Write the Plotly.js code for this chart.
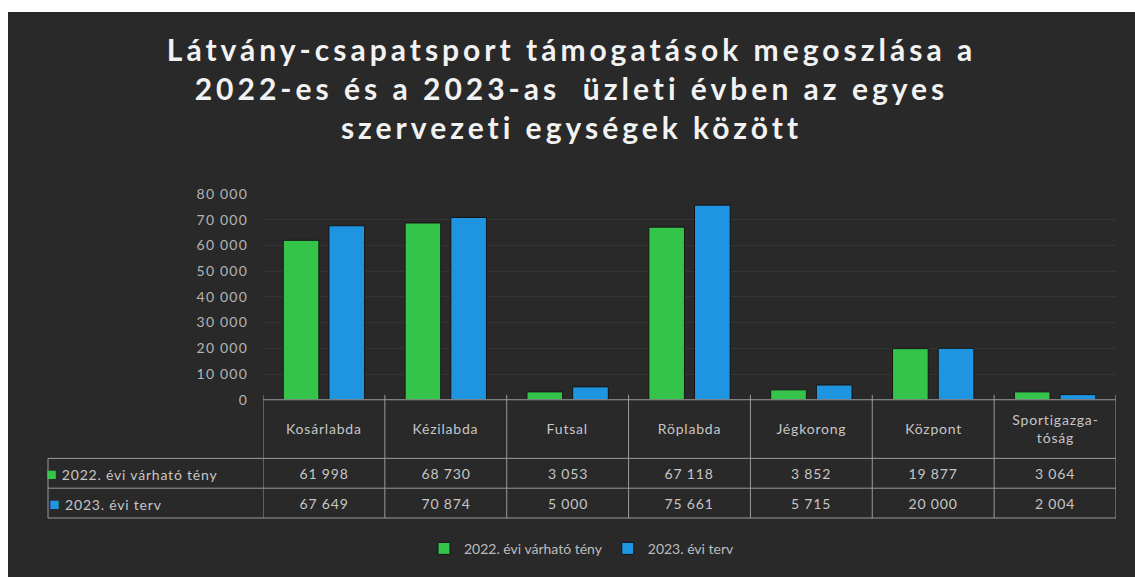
<!DOCTYPE html>
<html>
<head>
<meta charset="utf-8">
<script src="https://cdn.plot.ly/plotly-3.0.1.min.js"></script>
<style>
  html, body { margin: 0; padding: 0; background: #ffffff; }
  #chart { position: absolute; left: 8px; top: 12px; width: 1127px; height: 565px; }
  #chart .gtitle { letter-spacing: 4px; }
  #chart .ytick text { letter-spacing: 1.2px; }
  #chart .annotation-text { letter-spacing: 0.8px; }
</style>
</head>
<body>
<div id="chart"></div>
<script>
// Szervezeti egységek
const categories = ['Kosárlabda', 'Kézilabda', 'Futsal', 'Röplabda', 'Jégkorong', 'Központ', 'Sportigazgatóság'];
// Fejléc feliratok a táblázathoz (tördelve)
const headerLabels = ['Kosárlabda', 'Kézilabda', 'Futsal', 'Röplabda', 'Jégkorong', 'Központ', 'Sportigazga-<br>tóság'];

const seriesNames = ['2022. évi várható tény', '2023. évi terv'];
const values2022 = [61998, 68730, 3053, 67118, 3852, 19877, 3064];
const values2023 = [67649, 70874, 5000, 75661, 5715, 20000, 2004];

const green = '#35c44a';
const blue = '#1f95e2';
const textColor = '#c6c6c6';
const lineColor = '#9a9a9a';
const bg = '#292929';
const font = 'Lato, sans-serif';

// ezres tagolás szóközzel
function fmt(v) {
  return String(v).replace(/\B(?=(\d{3})+(?!\d))/g, ' ');
}

const barData = [
  {
    type: 'bar',
    name: seriesNames[0],
    x: categories,
    y: values2022,
    marker: { color: green, line: { color: '#151515', width: 1 } },
    hoverinfo: 'x+y'
  },
  {
    type: 'bar',
    name: seriesNames[1],
    x: categories,
    y: values2023,
    marker: { color: blue, line: { color: '#151515', width: 1 } },
    hoverinfo: 'x+y'
  }
];

// adattábla sorhatárai (paper koordináta, a rajzterület aljától)
const tableTop = 0.365;
const row1Top = 0.184;
const row2Top = 0.092;
const headerMid = 0.276;
const row1Mid = 0.138;
const row2Mid = 0.046;

const annotations = [];
const shapes = [];
const line = { color: lineColor, width: 1 };

categories.forEach((c, i) => {
  annotations.push({ x: c, xref: 'x', y: headerMid, yref: 'paper', text: headerLabels[i], showarrow: false,
    font: { family: font, size: 14, color: textColor }, xanchor: 'center', yanchor: 'middle' });
  annotations.push({ x: c, xref: 'x', y: row1Mid, yref: 'paper', text: fmt(values2022[i]), showarrow: false,
    font: { family: font, size: 14, color: textColor }, xanchor: 'center', yanchor: 'middle' });
  annotations.push({ x: c, xref: 'x', y: row2Mid, yref: 'paper', text: fmt(values2023[i]), showarrow: false,
    font: { family: font, size: 14, color: textColor }, xanchor: 'center', yanchor: 'middle' });
});

// sorfeliratok színes jelölővel
[[seriesNames[0], green, row1Mid], [seriesNames[1], blue, row2Mid]].forEach(([name, col, y]) => {
  annotations.push({ x: 0, xref: 'paper', xshift: 6, y: y, yref: 'paper', showarrow: false,
    text: '<span style="color:' + col + ';font-size:17px">■</span> ' + name,
    font: { family: font, size: 14, color: textColor }, xanchor: 'left', yanchor: 'middle' });
});

// oszlophatárok
for (let i = 0; i <= categories.length; i++) {
  shapes.push({ type: 'line', xref: 'x', yref: 'paper', x0: i - 0.5, x1: i - 0.5, y0: 0, y1: tableTop + 0.015, line: line });
}
// vízszintes vonalak
shapes.push({ type: 'line', xref: 'x', yref: 'paper', x0: -0.5, x1: categories.length - 0.5, y0: tableTop, y1: tableTop, line: line });
[row1Top, row2Top, 0].forEach(y => {
  shapes.push({ type: 'line', xref: 'paper', yref: 'paper', x0: 0, x1: 1, y0: y, y1: y, line: line });
});
shapes.push({ type: 'line', xref: 'paper', yref: 'paper', x0: 0, x1: 0, y0: 0, y1: row1Top, line: line });

const layout = {
  title: {
    text: 'Látvány-csapatsport támogatások megoszlása a<br>2022-es és a 2023-as  üzleti évben az egyes<br>szervezeti egységek között',
    font: { family: font, size: 30, color: '#f2f2f2', weight: 'bold' },
    x: 0.5,
    xanchor: 'center',
    y: 0.913,
    yanchor: 'middle'
  },
  paper_bgcolor: bg,
  plot_bgcolor: 'rgba(0,0,0,0)',
  separators: ', ',
  margin: { t: 182, b: 57, l: 40, r: 19 },
  barmode: 'group',
  bargap: 0.25,
  bargroupgap: 0.22,
  xaxis: {
    type: 'category',
    domain: [0.2013, 1],
    range: [-0.5, 6.5],
    showticklabels: false,
    showgrid: false,
    zeroline: false,
    showline: false
  },
  yaxis: {
    domain: [tableTop, 1],
    range: [0, 80000],
    dtick: 10000,
    tickformat: ',d',
    gridcolor: 'rgba(255,255,255,0.06)',
    zeroline: false,
    showline: false,
    ticklabelstandoff: 14,
    tickfont: { family: font, size: 14, color: '#b4b4b4' }
  },
  legend: {
    orientation: 'h',
    x: 0.5,
    xanchor: 'center',
    y: -0.095,
    yanchor: 'middle',
    font: { family: font, size: 14, color: '#bdbdbd' }
  },
  annotations: annotations,
  shapes: shapes,
  showlegend: true
};

Plotly.newPlot('chart', barData, layout, { displayModeBar: false });
</script>
</body>
</html>
